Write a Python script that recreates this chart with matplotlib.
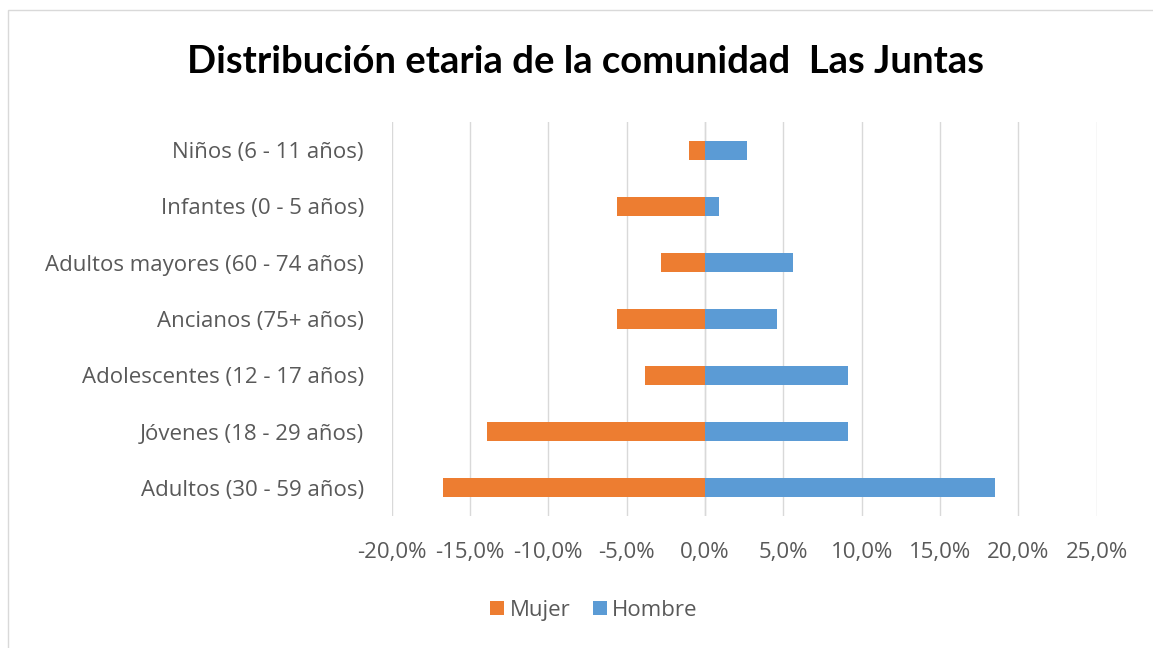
import matplotlib.pyplot as plt
import matplotlib.patches as patches

# data (percent)
categorias = ["Niños (6 - 11 años)", "Infantes (0 - 5 años)", "Adultos mayores (60 - 74 años)",
              "Ancianos (75+ años)", "Adolescentes (12 - 17 años)", "Jóvenes (18 - 29 años)",
              "Adultos (30 - 59 años)"]
mujer = [-1.0, -5.6, -2.8, -5.6, -3.8, -13.9, -16.7]
hombre = [2.7, 0.9, 5.6, 4.6, 9.1, 9.1, 18.5]
ticks = [-20, -15, -10, -5, 0, 5, 10, 15, 20, 25]

plt.rcParams['font.family'] = ['Open Sans', 'DejaVu Sans']

fig = plt.figure(figsize=(11.53, 6.48), dpi=100)
ax = fig.add_axes([0.3397, 0.2037, 0.6115, 0.608])

# chart border
fig.patches.append(patches.Rectangle((0.007, -0.01), 1.0, 0.995, transform=fig.transFigure,
                                     fill=False, edgecolor='#d9d9d9', linewidth=1))

y = list(range(len(categorias)))
ax.barh(y, mujer, height=0.34, color='#ED7D31', label='Mujer', zorder=3)
ax.barh(y, hombre, height=0.34, color='#5B9BD5', label='Hombre', zorder=3)

ax.set_xlim(-20, 25)
ax.set_ylim(len(categorias) - 0.5, -0.5)
ax.set_xticks(ticks)
ax.set_xticklabels([("%.1f%%" % t).replace('.', ',') for t in ticks])
ax.set_yticks(y)
ax.set_yticklabels(categorias)
ax.tick_params(axis='both', length=0, labelsize=16, colors='#595959')
ax.tick_params(axis='x', pad=19)
ax.tick_params(axis='y', pad=20)
ax.xaxis.grid(True, color='#d9d9d9', linewidth=1, zorder=0)
ax.axvline(0, color='#d9d9d9', linewidth=1, zorder=1)
for s in ax.spines.values():
    s.set_visible(False)

fig.text(0.508, 0.905, "Distribución etaria de la comunidad  Las Juntas", ha='center', va='center',
         fontsize=27.5, fontweight='bold', color='black', family=['Lato', 'DejaVu Sans'])

leg = fig.legend(loc='center', bbox_to_anchor=(0.515, 0.058), ncol=2, frameon=False,
                 fontsize=16, handlelength=0.63, handleheight=0.63, handletextpad=0.25,
                 columnspacing=1.0)
for t in leg.get_texts():
    t.set_color('#595959')

fig.savefig('out.png', dpi=100)
